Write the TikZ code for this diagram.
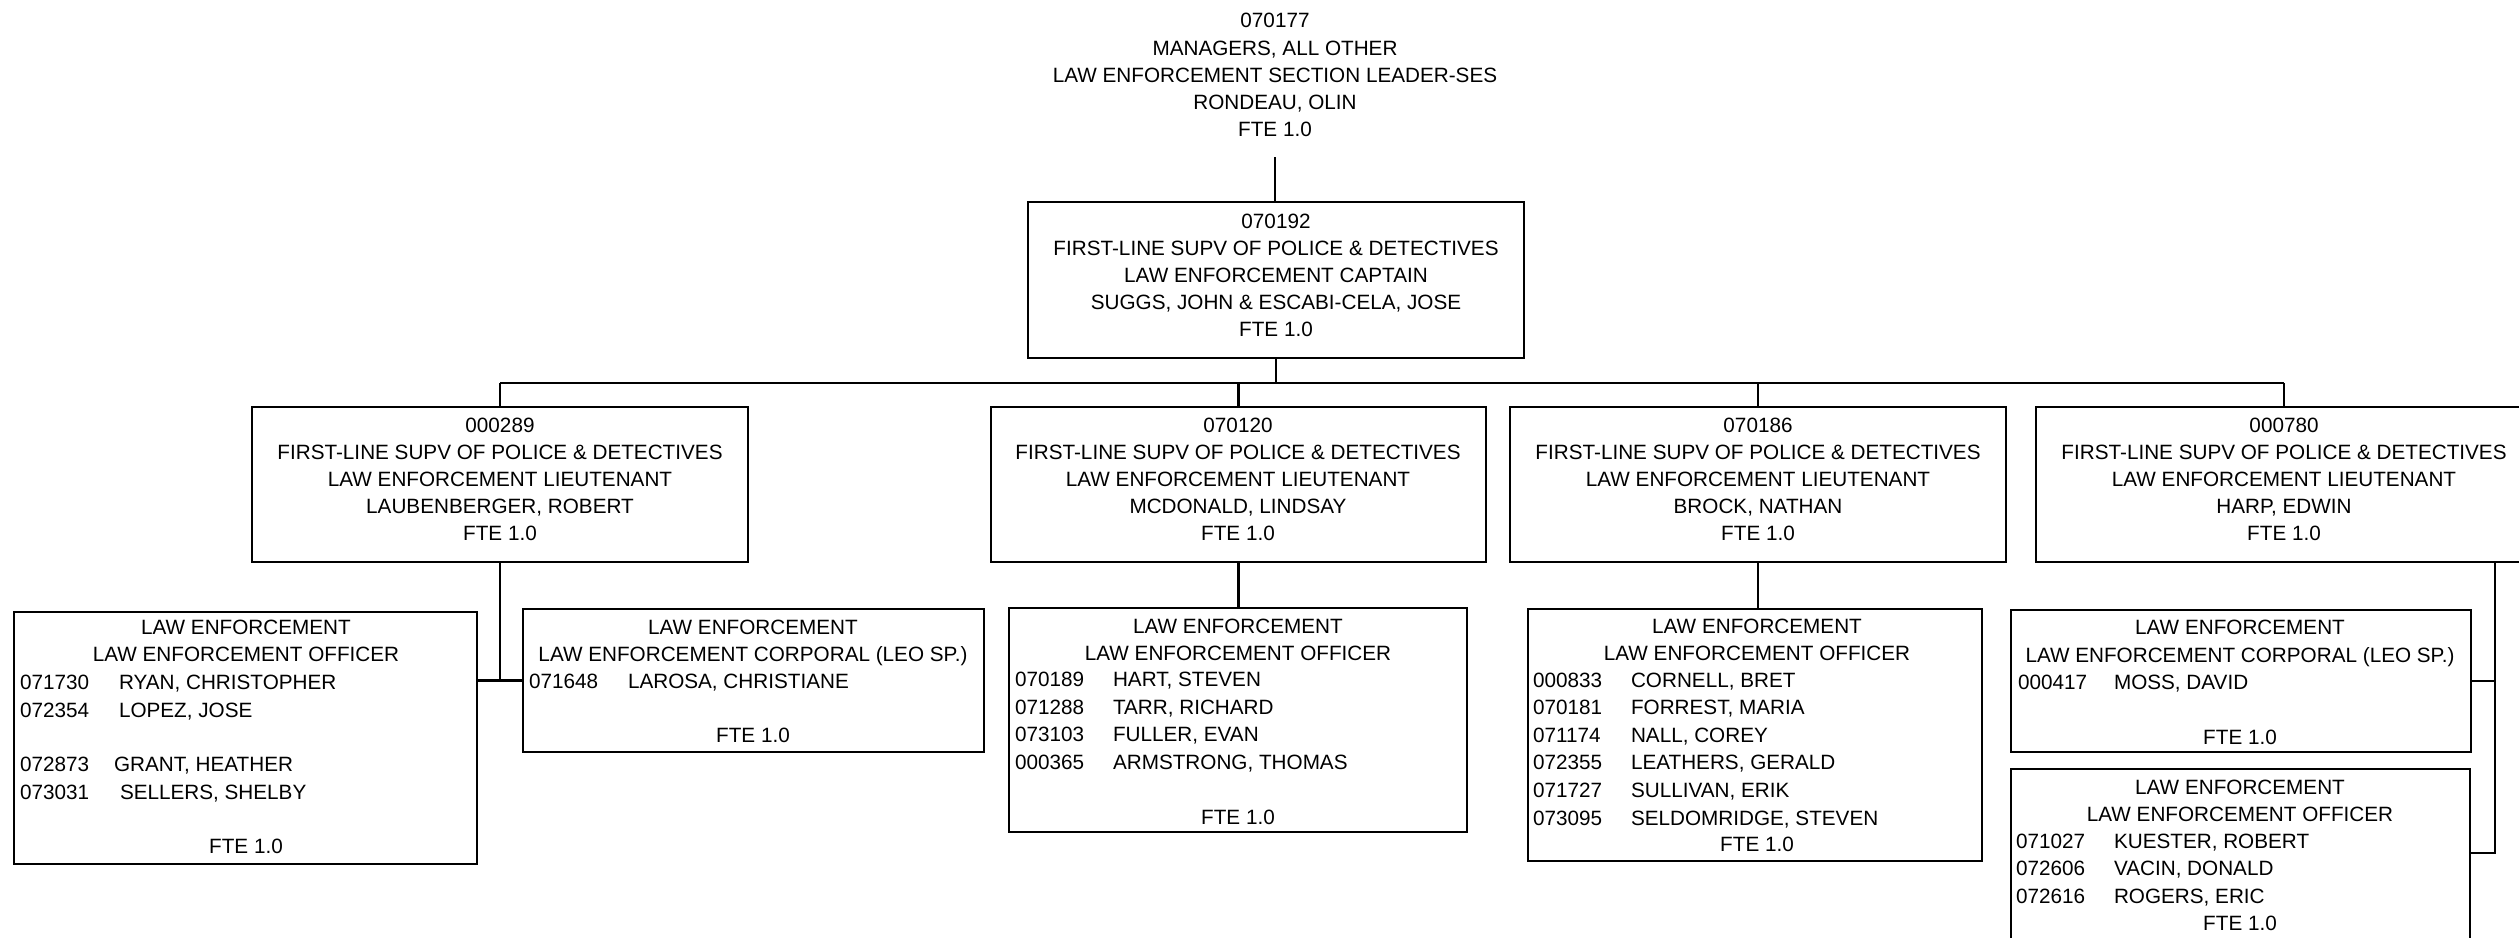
\documentclass[tikz,border=0pt]{standalone}
\usepackage{fontspec}
\setmainfont{Liberation Sans}
\begin{document}
% 1 unit = 1pt, y grows downward
\begin{tikzpicture}[x=1pt,y=-1pt,
  txt/.style={font=\fontsize{20.7}{25}\selectfont, inner sep=0pt, outer sep=0pt},
  orgbox/.style={draw, line width=2.4pt, rectangle, inner sep=0pt, outer sep=0pt},
  link/.style={line width=2.2pt}]
\newcommand{\ctext}[4]{\node[txt,anchor=base] (#1) at (#2,#3) {#4};}
\newcommand{\staffrow}[6]{%
  \node[txt,anchor=base west] (#1-id) at (#2,#4) {#5};
  \node[txt,anchor=base west] (#1-nm) at (#3,#4) {#6};}
\useasboundingbox (0,0) rectangle (2519,937);
\clip (0,0) rectangle (2519,937);
\fill[white] (0,0) rectangle (2519,937);

% ---- section leader (no frame)
\ctext{top1}{1275}{27}{070177}
\ctext{top2}{1275}{55}{MANAGERS, ALL OTHER}
\ctext{top3}{1275}{82}{LAW ENFORCEMENT SECTION LEADER-SES}
\ctext{top4}{1275}{109}{RONDEAU, OLIN}
\ctext{top5}{1275}{136}{FTE 1.0}
\coordinate (topfoot) at (1275,157);

% ---- captain
\node[orgbox, minimum width=496, minimum height=156] (capt) at (1276,280) {};
\ctext{c1}{1276}{228}{070192}
\ctext{c2}{1276}{255}{FIRST-LINE SUPV OF POLICE \& DETECTIVES}
\ctext{c3}{1276}{282}{LAW ENFORCEMENT CAPTAIN}
\ctext{c4}{1276}{309}{SUGGS, JOHN \& ESCABI-CELA, JOSE}
\ctext{c5}{1276}{336}{FTE 1.0}

% ---- lieutenants
\node[orgbox, minimum width=496, minimum height=155] (lt1) at (500,484.5) {};
\node[orgbox, minimum width=495, minimum height=155] (lt2) at (1238.5,484.5) {};
\node[orgbox, minimum width=496, minimum height=155] (lt3) at (1758,484.5) {};
\node[orgbox, minimum width=496, minimum height=155] (lt4) at (2284,484.5) {};

\ctext{a1}{500}{432}{000289}
\ctext{a2}{500}{459}{FIRST-LINE SUPV OF POLICE \& DETECTIVES}
\ctext{a3}{500}{486}{LAW ENFORCEMENT LIEUTENANT}
\ctext{a4}{500}{513}{LAUBENBERGER, ROBERT}
\ctext{a5}{500}{540}{FTE 1.0}

\ctext{b1}{1238}{432}{070120}
\ctext{b2}{1238}{459}{FIRST-LINE SUPV OF POLICE \& DETECTIVES}
\ctext{b3}{1238}{486}{LAW ENFORCEMENT LIEUTENANT}
\ctext{b4}{1238}{513}{MCDONALD, LINDSAY}
\ctext{b5}{1238}{540}{FTE 1.0}

\ctext{d1}{1758}{432}{070186}
\ctext{d2}{1758}{459}{FIRST-LINE SUPV OF POLICE \& DETECTIVES}
\ctext{d3}{1758}{486}{LAW ENFORCEMENT LIEUTENANT}
\ctext{d4}{1758}{513}{BROCK, NATHAN}
\ctext{d5}{1758}{540}{FTE 1.0}

\ctext{e1}{2284}{432}{000780}
\ctext{e2}{2284}{459}{FIRST-LINE SUPV OF POLICE \& DETECTIVES}
\ctext{e3}{2284}{486}{LAW ENFORCEMENT LIEUTENANT}
\ctext{e4}{2284}{513}{HARP, EDWIN}
\ctext{e5}{2284}{540}{FTE 1.0}

% ---- units under LAUBENBERGER
\node[orgbox, minimum width=463, minimum height=252] (lofc) at (245.5,738) {};
\ctext{lo1}{246}{634}{LAW ENFORCEMENT}
\ctext{lo2}{246}{661}{LAW ENFORCEMENT OFFICER}
\staffrow{lo-r1}{20}{119}{689}{071730}{RYAN, CHRISTOPHER}
\staffrow{lo-r2}{20}{119}{717}{072354}{LOPEZ, JOSE}
\staffrow{lo-r3}{20}{114}{771}{072873}{GRANT, HEATHER}
\staffrow{lo-r4}{20}{120}{799}{073031}{SELLERS, SHELBY}
\ctext{lo3}{246}{853}{FTE 1.0}

\node[orgbox, minimum width=461, minimum height=143] (lcorp) at (753.5,680.5) {};
\ctext{lc1}{753}{634}{LAW ENFORCEMENT}
\ctext{lc2}{753}{661}{LAW ENFORCEMENT CORPORAL (LEO SP.)}
\staffrow{lc-r1}{529}{628}{688}{071648}{LAROSA, CHRISTIANE}
\ctext{lc3}{753}{742}{FTE 1.0}

% ---- unit under MCDONALD
\node[orgbox, minimum width=458, minimum height=224] (mofc) at (1238,720) {};
\ctext{mo1}{1238}{633}{LAW ENFORCEMENT}
\ctext{mo2}{1238}{660}{LAW ENFORCEMENT OFFICER}
\staffrow{mo-r1}{1015}{1113}{686}{070189}{HART, STEVEN}
\staffrow{mo-r2}{1015}{1113}{714}{071288}{TARR, RICHARD}
\staffrow{mo-r3}{1015}{1113}{741}{073103}{FULLER, EVAN}
\staffrow{mo-r4}{1015}{1113}{769}{000365}{ARMSTRONG, THOMAS}
\ctext{mo3}{1238}{824}{FTE 1.0}

% ---- unit under BROCK
\node[orgbox, minimum width=454, minimum height=252] (bofc) at (1755,735) {};
\ctext{bo1}{1757}{633}{LAW ENFORCEMENT}
\ctext{bo2}{1757}{660}{LAW ENFORCEMENT OFFICER}
\staffrow{bo-r1}{1533}{1631}{687}{000833}{CORNELL, BRET}
\staffrow{bo-r2}{1533}{1631}{714}{070181}{FORREST, MARIA}
\staffrow{bo-r3}{1533}{1631}{742}{071174}{NALL, COREY}
\staffrow{bo-r4}{1533}{1631}{769}{072355}{LEATHERS, GERALD}
\staffrow{bo-r5}{1533}{1631}{797}{071727}{SULLIVAN, ERIK}
\staffrow{bo-r6}{1533}{1631}{825}{073095}{SELDOMRIDGE, STEVEN}
\ctext{bo3}{1757}{851}{FTE 1.0}

% ---- units under HARP
\node[orgbox, minimum width=460, minimum height=142] (hcorp) at (2241,681) {};
\ctext{hc1}{2240}{634}{LAW ENFORCEMENT}
\ctext{hc2}{2240}{662}{LAW ENFORCEMENT CORPORAL (LEO SP.)}
\staffrow{hc-r1}{2018}{2114}{689}{000417}{MOSS, DAVID}
\ctext{hc3}{2240}{744}{FTE 1.0}

\node[orgbox, minimum width=459, minimum height=181] (hofc) at (2240.5,859.5) {};
\ctext{ho1}{2240}{794}{LAW ENFORCEMENT}
\ctext{ho2}{2240}{821}{LAW ENFORCEMENT OFFICER}
\staffrow{ho-r1}{2016}{2114}{848}{071027}{KUESTER, ROBERT}
\staffrow{ho-r2}{2016}{2114}{875}{072606}{VACIN, DONALD}
\staffrow{ho-r3}{2016}{2114}{903}{072616}{ROGERS, ERIC}
\ctext{ho3}{2240}{930}{FTE 1.0}

% ---- connectors
\coordinate (busL) at (500,383);
\coordinate (busR) at (2284,383);
\draw[link] (topfoot) -- (topfoot |- capt.north);
\draw[link] (capt.south) -- (capt.south |- busL);
\draw[link] (busL) -- (busR);
\draw[link] (busL) -- (lt1.north);
\draw[link] (lt2.north |- busL) -- (lt2.north);
\draw[link] (lt3.north |- busL) -- (lt3.north);
\draw[link] (busR) -- (lt4.north);

\coordinate (ljoin) at (lt1.south |- lcorp.west);
\draw[link] (lt1.south) -- (ljoin);
\draw[link] (lofc.east |- ljoin) -- (lcorp.west);

\draw[link] (lt2.south) -- (lt2.south |- mofc.north);
\draw[link] (lt3.south) -- (lt3.south |- bofc.north);

\coordinate (hx1) at (2495,562);
\coordinate (hx2) at (2495,853);
\draw[link] (hx1) -- (hx2) -- (hofc.east |- hx2);
\draw[link] (hcorp.east) -- (hcorp.east -| hx1);
\end{tikzpicture}
\end{document}
